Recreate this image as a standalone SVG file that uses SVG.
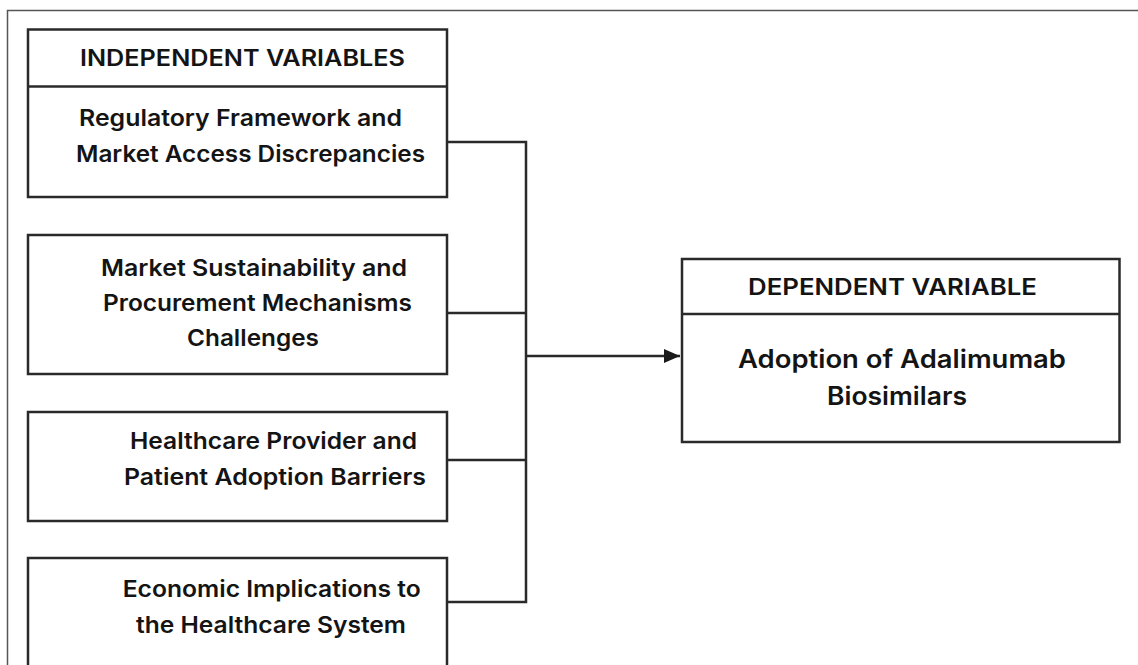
<svg xmlns="http://www.w3.org/2000/svg" width="1138" height="665" viewBox="0 0 1138 665">
<style>
.frame{fill:none;stroke:#555;stroke-width:1.5}
.box{fill:#fff;stroke:#2a2a2a;stroke-width:2.5}
.div{stroke:#2a2a2a;stroke-width:2.5}
.t{font-family:Inter,"DejaVu Sans","Liberation Sans",sans-serif;font-weight:600;fill:#141414;text-anchor:middle;font-size:22.5px}
.big{font-size:25px}
.conn{fill:none;stroke:#2a2a2a;stroke-width:2.5}
</style>
<defs>
<marker id="arr" viewBox="0 0 10 10" refX="10" refY="5" markerWidth="6.4" markerHeight="6.4" markerUnits="strokeWidth" orient="auto">
<path d="M0,0.6 L10,5 L0,9.4 z" fill="#1a1a1a"/>
</marker>
</defs>
<rect width="1138" height="665" fill="#fff"/>
<path class="frame" d="M7.5,665 V10.5 H1138"/>
<g id="independent">
<rect class="box" x="28" y="29.5" width="419" height="167.5"/>
<line class="div" x1="28" y1="86.5" x2="447" y2="86.5"/>
<text class="t" x="242.5" y="66" textLength="325" lengthAdjust="spacingAndGlyphs">INDEPENDENT VARIABLES</text>
<text class="t" x="240.5" y="126" textLength="323" lengthAdjust="spacingAndGlyphs">Regulatory Framework and</text>
<text class="t" x="250.5" y="162" textLength="349" lengthAdjust="spacingAndGlyphs">Market Access Discrepancies</text>
</g>
<g id="market">
<rect class="box" x="28" y="235" width="419" height="139"/>
<text class="t" x="254" y="276" textLength="306" lengthAdjust="spacingAndGlyphs">Market Sustainability and</text>
<text class="t" x="257.5" y="311" textLength="309" lengthAdjust="spacingAndGlyphs">Procurement Mechanisms</text>
<text class="t" x="253" y="346" textLength="132" lengthAdjust="spacingAndGlyphs">Challenges</text>
</g>
<g id="healthcare">
<rect class="box" x="28" y="412" width="419" height="109"/>
<text class="t" x="273.5" y="449" textLength="287" lengthAdjust="spacingAndGlyphs">Healthcare Provider and</text>
<text class="t" x="275" y="485" textLength="302" lengthAdjust="spacingAndGlyphs">Patient Adoption Barriers</text>
</g>
<g id="economic">
<rect class="box" x="28" y="558" width="419" height="130"/>
<text class="t" x="271.7" y="597" textLength="298" lengthAdjust="spacingAndGlyphs">Economic Implications to</text>
<text class="t" x="271" y="632.5" textLength="270" lengthAdjust="spacingAndGlyphs">the Healthcare System</text>
</g>
<g id="dependent">
<rect class="box" x="682" y="259" width="437.5" height="183"/>
<line class="div" x1="682" y1="314" x2="1119.5" y2="314"/>
<text class="t" x="892.5" y="295" textLength="289" lengthAdjust="spacingAndGlyphs">DEPENDENT VARIABLE</text>
<text class="t big" x="902" y="368" textLength="328" lengthAdjust="spacingAndGlyphs">Adoption of Adalimumab</text>
<text class="t big" x="897" y="405" textLength="140" lengthAdjust="spacingAndGlyphs">Biosimilars</text>
</g>
<g id="connectors">
<path class="conn" d="M447,142 H526 V602 H447"/>
<path class="conn" d="M447,313 H526"/>
<path class="conn" d="M447,460 H526"/>
<path class="conn" d="M526,356 H680" marker-end="url(#arr)"/>
</g>
</svg>
